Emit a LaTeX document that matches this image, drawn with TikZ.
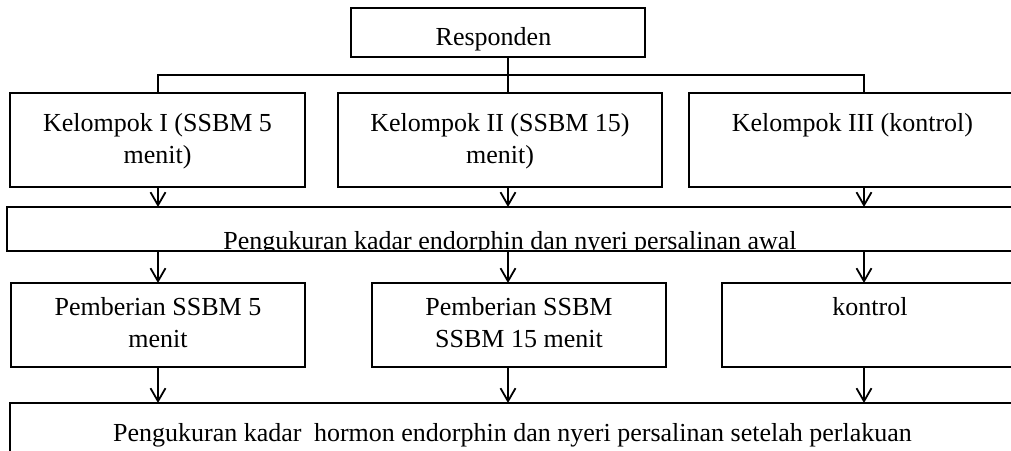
\documentclass[tikz,border=0pt]{standalone}
\usepackage{fontspec}
\setmainfont{Liberation Serif}
\usetikzlibrary{arrows.meta}
\begin{document}
\begin{tikzpicture}[x=1pt,y=-1pt,
  box/.style={draw, line width=1.5pt, inner sep=0pt, outer sep=0pt},
  txt/.style={font=\fontsize{26}{32}\selectfont, inner sep=0pt, outer sep=0pt, align=center},
  link/.style={line width=1.5pt},
  arr/.style={line width=1.5pt, -{Straight Barb[length=13pt,width=15pt,line width=1.8pt]}}]
\useasboundingbox (0,0) rectangle (1011,450);
\clip (0,0) rectangle (1011,450);
% boxes
\node[box, minimum width=294pt, minimum height=49pt] (resp) at (498,32.5) {};
\node[box, minimum width=295pt, minimum height=94pt] (k1) at (157.5,140) {};
\node[box, minimum width=324pt, minimum height=94pt] (k2) at (500,140) {};
\node[box, minimum width=327pt, minimum height=94pt] (k3) at (852.5,140) {};
\node[box, minimum width=1006pt, minimum height=44pt] (b1) at (510,229) {};
\node[box, minimum width=294pt, minimum height=84pt] (p1) at (158,325) {};
\node[box, minimum width=294pt, minimum height=84pt] (p2) at (519,325) {};
\node[box, minimum width=296pt, minimum height=84pt] (p3) at (870,325) {};
\node[box, minimum width=1005pt, minimum height=97pt] (b2) at (512.5,451.5) {};
% texts
\node[txt, anchor=base] (tresp) at (493.5,45) {Responden};
\node[txt, anchor=north] (tk1) at (157.5,113.5) {Kelompok I (SSBM 5\\menit)};
\node[txt, anchor=north] (tk2) at (500,113.5) {Kelompok II (SSBM 15)\\menit)};
\node[txt, anchor=base] (tk3) at (852.5,131.5) {Kelompok III (kontrol)};
\begin{scope}
  \clip (b1.north west) rectangle (b1.south east);
  \node[txt, anchor=base] (tb1) at (510,249.5) {Pengukuran kadar endorphin dan nyeri persalinan awal};
\end{scope}
\node[txt, anchor=north] (tp1) at (158,297.2) {Pemberian SSBM 5\\menit};
\node[txt, anchor=north] (tp2) at (519,297.2) {Pemberian SSBM\\SSBM 15 menit};
\node[txt, anchor=base] (tp3) at (870,315) {kontrol};
\node[txt, anchor=base] (tb2) at (512.5,441) {Pengukuran kadar\hspace{6pt} hormon endorphin dan nyeri persalinan setelah perlakuan};
% column coordinates
\coordinate (c1) at (158,0);
\coordinate (c2) at (508,0);
\coordinate (c3) at (864,0);
\coordinate (hub) at (508,75);
% connectors
\draw[link] (resp.south -| hub) -- (hub);
\draw[link] (k1.north -| c1) -- (c1 |- hub) -- (c3 |- hub) -- (k3.north -| c3);
\draw[link] (hub) -- (k2.north -| hub);
\draw[arr] (k1.south -| c1) -- (b1.north -| c1);
\draw[arr] (k2.south -| c2) -- (b1.north -| c2);
\draw[arr] (k3.south -| c3) -- (b1.north -| c3);
\draw[arr] (b1.south -| c1) -- (p1.north -| c1);
\draw[arr] (b1.south -| c2) -- (p2.north -| c2);
\draw[arr] (b1.south -| c3) -- (p3.north -| c3);
\draw[arr] (p1.south -| c1) -- (b2.north -| c1);
\draw[arr] (p2.south -| c2) -- (b2.north -| c2);
\draw[arr] (p3.south -| c3) -- (b2.north -| c3);
\end{tikzpicture}
\end{document}
